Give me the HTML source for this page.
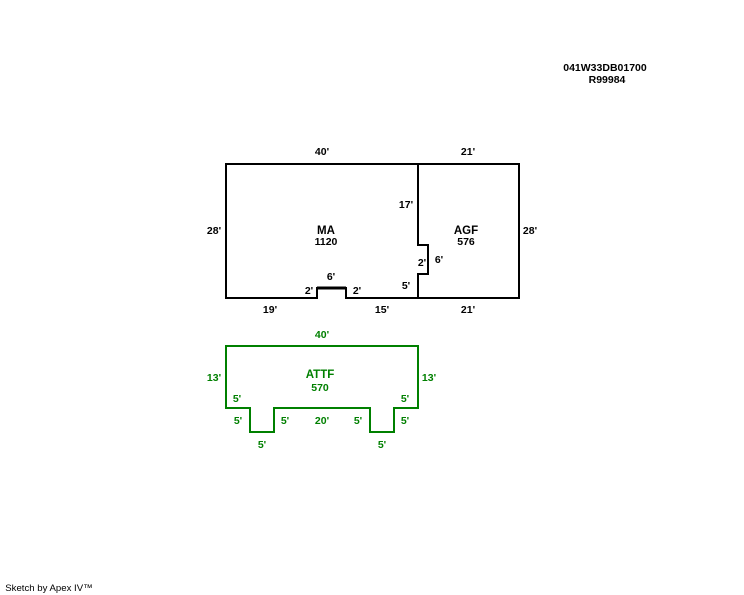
<!DOCTYPE html>
<html>
<head>
<meta charset="utf-8">
<style>
html,body{margin:0;padding:0;background:#fff;}
svg{display:block;}
text{font-family:"Liberation Sans",Arial,sans-serif;font-weight:bold;font-size:10.5px;text-anchor:middle;fill:#000;}
.g text{fill:#008000;}
.big{font-size:11.5px;}
</style>
</head>
<body>
<svg width="744" height="595" viewBox="0 0 744 595" xmlns="http://www.w3.org/2000/svg">
<g fill="none" stroke="#000" stroke-width="2" shape-rendering="crispEdges">
<path d="M226 164H519V298H346V288H317V298H226Z"/>
<path d="M418 164V245H428V274H418V298"/>
<path d="M317 288H346" stroke-width="3"/>
</g>
<g fill="none" stroke="#008000" stroke-width="2" shape-rendering="crispEdges">
<path d="M226 346H418V408H394V432H370V408H274V432H250V408H226Z"/>
</g>
<text x="605" y="71">041W33DB01700</text>
<text x="607" y="83">R99984</text>
<text x="322" y="155">40'</text>
<text x="468" y="155">21'</text>
<text x="214" y="234">28'</text>
<text x="530" y="234">28'</text>
<text x="326" y="234" class="big">MA</text>
<text x="326" y="245">1120</text>
<text x="466" y="234" class="big">AGF</text>
<text x="466" y="245">576</text>
<text x="406" y="208">17'</text>
<text x="422" y="266">2'</text>
<text x="439" y="263">6'</text>
<text x="406" y="289">5'</text>
<text x="331" y="280">6'</text>
<text x="309" y="294">2'</text>
<text x="357" y="294">2'</text>
<text x="270" y="313">19'</text>
<text x="382" y="313">15'</text>
<text x="468" y="313">21'</text>
<g class="g">
<text x="322" y="338">40'</text>
<text x="214" y="381">13'</text>
<text x="429" y="381">13'</text>
<text x="320" y="378" class="big">ATTF</text>
<text x="320" y="391">570</text>
<text x="237" y="402">5'</text>
<text x="405" y="402">5'</text>
<text x="238" y="424">5'</text>
<text x="285" y="424">5'</text>
<text x="322" y="424">20'</text>
<text x="358" y="424">5'</text>
<text x="405" y="424">5'</text>
<text x="262" y="448">5'</text>
<text x="382" y="448">5'</text>
</g>
<text x="49" y="591" style="font-weight:normal;font-size:9.6px;">Sketch by Apex IV™</text>
</svg>
</body>
</html>
